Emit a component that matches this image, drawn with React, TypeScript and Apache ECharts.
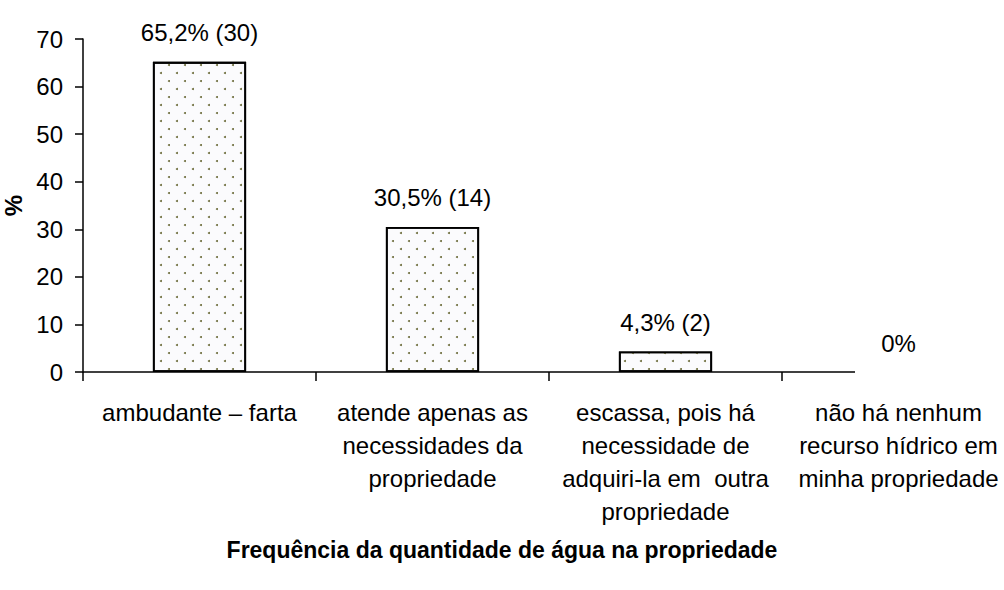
import React, { useEffect, useRef } from "react";
import * as echarts from "echarts";

const categories = [
  "ambudante – farta",
  "atende apenas as\nnecessidades da\npropriedade",
  "escassa, pois há\nnecessidade de\nadquiri-la em  outra\npropriedade",
  "não há nenhum\nrecurso hídrico em\nminha propriedade",
];
const values = [65.2, 30.5, 4.3, 0];
const valueLabels = ["65,2% (30)", "30,5% (14)", "4,3% (2)", "0%"];
const yTicks = { min: 0, max: 70, interval: 10 };
const yName = "%";
const titleText = "Frequência da quantidade de água na propriedade";

const FONT = "'Liberation Sans', Arial, sans-serif";

export default function App() {
  const ref = useRef<HTMLDivElement>(null);
  useEffect(() => {
    if (!ref.current) return;
    const chart = echarts.init(ref.current, null, { renderer: "svg" });
    const seriesData = values.map((v) =>
      v === 0
        ? { value: v, itemStyle: { borderWidth: 0, borderColor: "transparent", color: "transparent" } }
        : { value: v }
    );
    chart.setOption({
      animation: false,
      backgroundColor: "#ffffff",
      textStyle: { fontFamily: FONT },
      title: {
        text: titleText,
        left: "center",
        top: 533,
        textStyle: { fontFamily: FONT, fontSize: 23, fontWeight: "bold", color: "#000" },
      },
      grid: {
        left: 83,
        top: 39,
        width: 932,
        height: 333,
        containLabel: false,
        outerBoundsMode: "none",
      },
      xAxis: {
        type: "category",
        data: categories,
        boundaryGap: true,
        axisLine: { show: false },
        axisTick: { show: true, length: 9, lineStyle: { color: "#000", width: 1.5 } },
        axisLabel: {
          interval: 0,
          hideOverlap: false,
          margin: 24,
          fontSize: 24,
          lineHeight: 33,
          color: "#000",
          fontFamily: FONT,
          align: "center",
        },
        splitLine: { show: false },
      },
      yAxis: {
        type: "value",
        min: yTicks.min,
        max: yTicks.max,
        interval: yTicks.interval,
        name: yName,
        nameLocation: "middle",
        nameGap: 53,
        nameRotate: 90,
        nameTextStyle: { fontFamily: FONT, fontSize: 24, fontWeight: "bold", color: "#000" },
        axisLine: { show: true, lineStyle: { color: "#000", width: 1.5 } },
        axisTick: { show: true, length: 8, lineStyle: { color: "#000", width: 1.5 } },
        axisLabel: { margin: 20, fontSize: 24, color: "#000", fontFamily: FONT },
        splitLine: { show: false },
      },
      graphic: [
        {
          type: "line",
          shape: { x1: 83, y1: 372, x2: 855, y2: 372 },
          style: { stroke: "#000", lineWidth: 1.5 },
          z: 10,
        },
      ],
      series: [
        {
          type: "bar",
          data: seriesData,
          barWidth: "40%",
          itemStyle: {
            color: "#fbfbfd",
            borderColor: "#000",
            borderWidth: 1.8,
            decal: {
              symbol: "circle",
              symbolSize: 1,
              color: "#6c6c3a",
              dashArrayX: [[2, 14], [0, 8, 2, 6]],
              dashArrayY: [2, 6],
              rotation: 0,
            },
          },
          label: {
            show: true,
            position: "top",
            distance: 17,
            fontSize: 24,
            color: "#000",
            fontFamily: FONT,
            formatter: (p: any) => valueLabels[p.dataIndex],
          },
        },
      ],
    });
    return () => chart.dispose();
  }, []);
  return (
    <div
      ref={ref}
      style={{ position: "fixed", left: 0, top: 0, width: 1004, height: 590 }}
    />
  );
}
